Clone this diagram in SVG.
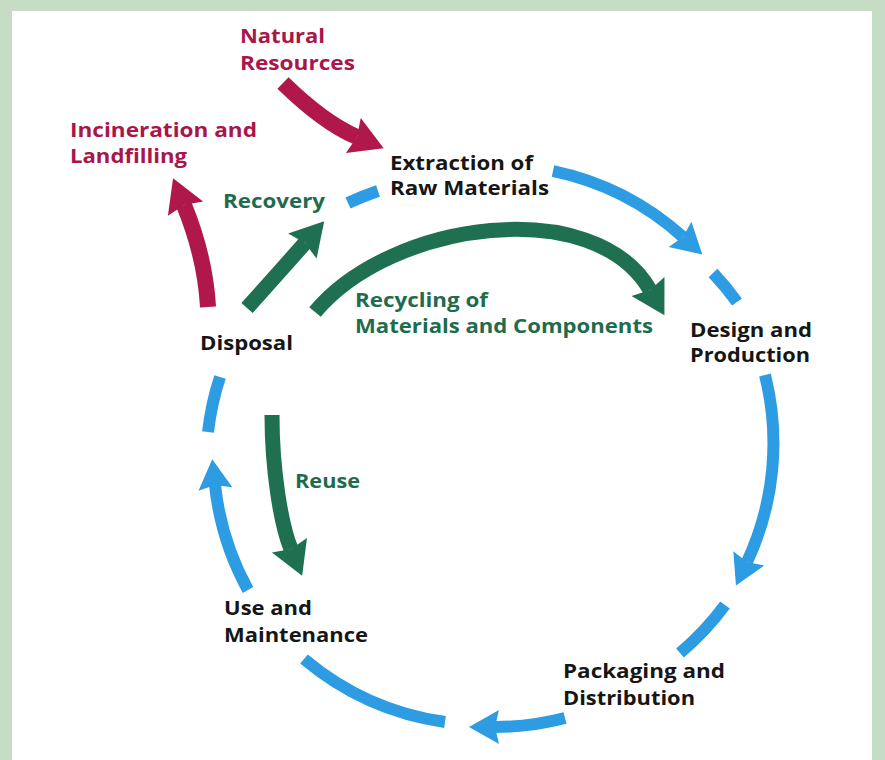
<svg xmlns="http://www.w3.org/2000/svg" width="885" height="760" viewBox="0 0 885 760">
  <style>
    .lbl { font-family: "Open Sans", "Liberation Sans", sans-serif; font-weight: 700; font-size: 20px; }
    .dark { fill: #161616; }
    .green { fill: #1f6b4e; }
    .red { fill: #a8164a; }
    .cyc { fill: none; stroke: #2d9ce2; stroke-width: 12; }
    .grn { fill: none; stroke: #1f7050; stroke-width: 15; }
    .rd { fill: none; stroke: #b0174b; stroke-width: 16; }
  </style>
  <defs>
    <marker id="headBlue" markerUnits="userSpaceOnUse" markerWidth="40" markerHeight="40" refX="4" refY="0" orient="auto" overflow="visible">
      <path d="M0,-17 L30,0 L0,17 L4,0 Z" fill="#2d9ce2"/>
    </marker>
    <marker id="headGreen" markerUnits="userSpaceOnUse" markerWidth="40" markerHeight="40" refX="4" refY="0" orient="auto" overflow="visible">
      <path d="M0,-19 L33,0 L0,19 L4,0 Z" fill="#1f7050"/>
    </marker>
    <marker id="headRed" markerUnits="userSpaceOnUse" markerWidth="40" markerHeight="40" refX="4" refY="0" orient="auto" overflow="visible">
      <path d="M0,-19 L33,0 L0,19 L4,0 Z" fill="#b0174b"/>
    </marker>
  </defs>

  <!-- frame -->
  <rect x="0" y="0" width="885" height="760" fill="#c6dcc5"/>
  <rect x="12" y="11" width="860" height="749" fill="#ffffff"/>

  <!-- connectors -->
  <g id="connectors">
    <!-- life-cycle ring -->
    <path class="cyc" d="M348,203 A280,280 0 0 1 378,191"/>
    <path class="cyc" d="M553,171 A280,280 0 0 1 683,237" marker-end="url(#headBlue)"/>
    <path class="cyc" d="M713,273 A280,280 0 0 1 737,302"/>
    <path class="cyc" d="M765,375 A280,280 0 0 1 747,562" marker-end="url(#headBlue)"/>
    <path class="cyc" d="M725,605 A280,280 0 0 1 680,653"/>
    <path class="cyc" d="M565,718 A280,280 0 0 1 495,727" marker-end="url(#headBlue)"/>
    <path class="cyc" d="M445,722 A280,280 0 0 1 304,659"/>
    <path class="cyc" d="M248,590 A280,280 0 0 1 215,485" marker-end="url(#headBlue)"/>
    <path class="cyc" d="M208,432 A280,280 0 0 1 220,377"/>

    <!-- inner loops -->
    <path class="grn" d="M247,308 Q282,269 305,243" marker-end="url(#headGreen)"/>
    <path class="grn" d="M315,312 C392,220 595,194 650,290" marker-end="url(#headGreen)"/>
    <path class="grn" d="M272,415 C272,470 281,525 291,549" marker-end="url(#headGreen)"/>

    <!-- inputs and outputs -->
    <path class="rd" d="M283,83 Q324,123 357,137" marker-end="url(#headRed)"/>
    <path class="rd" d="M208,307 C206,270 195,232 184,205" marker-end="url(#headRed)"/>
  </g>

  <g id="natural-resources">
    <text class="lbl red" x="240" y="43" textLength="85" lengthAdjust="spacingAndGlyphs">Natural</text>
    <text class="lbl red" x="240" y="70" textLength="115" lengthAdjust="spacingAndGlyphs">Resources</text>
  </g>
  <g id="incineration-landfilling">
    <text class="lbl red" x="70" y="137" textLength="187" lengthAdjust="spacingAndGlyphs">Incineration and</text>
    <text class="lbl red" x="70" y="163" textLength="117" lengthAdjust="spacingAndGlyphs">Landfilling</text>
  </g>
  <g id="extraction">
    <text class="lbl dark" x="390" y="170" textLength="143" lengthAdjust="spacingAndGlyphs">Extraction of</text>
    <text class="lbl dark" x="390" y="195" textLength="159" lengthAdjust="spacingAndGlyphs">Raw Materials</text>
  </g>
  <g id="recovery">
    <text class="lbl green" x="223" y="208" textLength="102" lengthAdjust="spacingAndGlyphs">Recovery</text>
  </g>
  <g id="recycling">
    <text class="lbl green" x="355" y="307" textLength="133" lengthAdjust="spacingAndGlyphs">Recycling of</text>
    <text class="lbl green" x="355" y="333" textLength="298" lengthAdjust="spacingAndGlyphs">Materials and Components</text>
  </g>
  <g id="design-production">
    <text class="lbl dark" x="690" y="337" textLength="122" lengthAdjust="spacingAndGlyphs">Design and</text>
    <text class="lbl dark" x="690" y="362" textLength="120" lengthAdjust="spacingAndGlyphs">Production</text>
  </g>
  <g id="disposal">
    <text class="lbl dark" x="200" y="350" textLength="93" lengthAdjust="spacingAndGlyphs">Disposal</text>
  </g>
  <g id="reuse">
    <text class="lbl green" x="295" y="488" textLength="65" lengthAdjust="spacingAndGlyphs">Reuse</text>
  </g>
  <g id="use-maintenance">
    <text class="lbl dark" x="224" y="615" textLength="88" lengthAdjust="spacingAndGlyphs">Use and</text>
    <text class="lbl dark" x="224" y="642" textLength="144" lengthAdjust="spacingAndGlyphs">Maintenance</text>
  </g>
  <g id="packaging-distribution">
    <text class="lbl dark" x="563" y="678" textLength="162" lengthAdjust="spacingAndGlyphs">Packaging and</text>
    <text class="lbl dark" x="563" y="705" textLength="132" lengthAdjust="spacingAndGlyphs">Distribution</text>
  </g>
</svg>
